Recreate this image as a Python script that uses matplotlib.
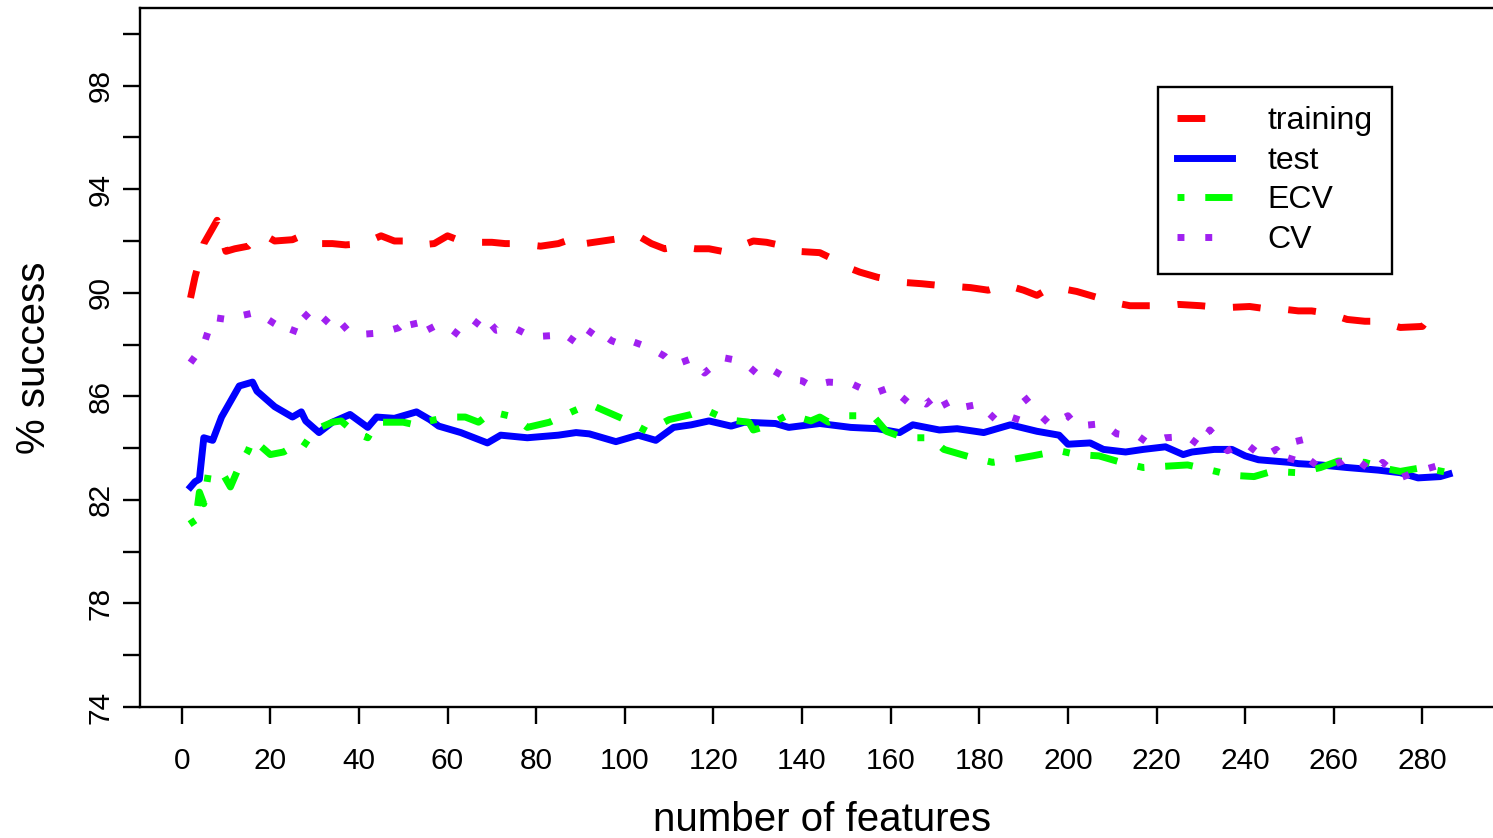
import matplotlib
matplotlib.use("Agg")
import matplotlib.pyplot as plt

plt.rcParams['font.family'] = ['Liberation Sans', 'DejaVu Sans']

# values (number of features -> % success)
train_x = [2, 3, 5, 8, 10, 12, 15, 18, 21, 25, 27, 30, 34, 37, 41, 45, 48, 52, 54, 57,
           60, 63, 66, 70, 73, 76, 81, 85, 90, 91, 95, 99, 103, 106, 109, 112, 116, 119,
           122, 126, 129, 132, 136, 139, 144, 147, 150, 153, 157, 160, 163, 167, 170, 174,
           178, 182, 186, 190, 193, 196, 199, 202, 207, 211, 214, 218, 222, 225, 230, 233,
           236, 241, 244, 247, 252, 255, 259, 263, 267, 270, 275, 280, 281, 286]
train_y = [89.8, 90.6, 91.9, 92.8, 91.6, 91.7, 91.8, 92.3, 92.0, 92.05, 92.2, 91.9, 91.9,
           91.85, 91.9, 92.2, 92.0, 92.0, 91.85, 91.9, 92.2, 92.0, 91.95, 91.95, 91.9, 91.9,
           91.8, 91.9, 92.2, 91.9, 92.0, 92.1, 92.2, 91.9, 91.7, 91.8, 91.7, 91.7, 91.6,
           91.8, 92.0, 91.95, 91.8, 91.6, 91.55, 91.3, 91.0, 90.8, 90.6, 90.5, 90.4, 90.35,
           90.3, 90.25, 90.2, 90.1, 90.3, 90.1, 89.9, 90.2, 90.15, 90.05, 89.8, 89.6, 89.5,
           89.5, 89.5, 89.55, 89.5, 89.45, 89.43, 89.47, 89.4, 89.4, 89.3, 89.3, 89.2,
           88.97, 88.9, 88.9, 88.66, 88.7, 88.93, 88.93]

test_x = [2, 3, 4, 5, 7, 9, 10, 13, 16, 17, 19, 21, 25, 27, 28, 31, 34, 38, 42, 44, 48,
          53, 56, 58, 63, 66, 69, 72, 78, 85, 89, 92, 98, 103, 107, 111, 115, 119, 124,
          127, 134, 137, 144, 151, 157, 162, 165, 171, 175, 181, 187, 193, 198, 200, 205,
          208, 213, 217, 222, 226, 228, 233, 237, 240, 243, 250, 252, 257, 263, 270, 275,
          279, 284, 286]
test_y = [82.5, 82.7, 82.8, 84.4, 84.3, 85.2, 85.5, 86.4, 86.55, 86.2, 85.9, 85.6, 85.2,
          85.4, 85.05, 84.6, 85.0, 85.3, 84.8, 85.2, 85.15, 85.4, 85.1, 84.85, 84.6, 84.4,
          84.2, 84.5, 84.4, 84.5, 84.6, 84.55, 84.25, 84.5, 84.3, 84.8, 84.9, 85.05, 84.85,
          85.0, 84.95, 84.8, 84.95, 84.8, 84.75, 84.6, 84.9, 84.7, 84.75, 84.6, 84.9, 84.65,
          84.5, 84.15, 84.2, 83.95, 83.85, 83.95, 84.05, 83.75, 83.85, 83.95, 83.95, 83.7,
          83.55, 83.45, 83.4, 83.35, 83.25, 83.15, 83.05, 82.85, 82.9, 83.0]

ecv_x = [2, 3, 4, 5, 6, 9, 11, 13, 15, 16, 18, 20, 23, 25, 27, 30, 34, 36, 39, 42, 44,
         50, 54, 56, 60, 64, 67, 70, 75, 78, 83, 88, 92, 96, 100, 105, 110, 115, 118, 123,
         128, 129, 132, 137, 142, 144, 146, 150, 156, 159, 163, 169, 172, 178, 183, 187,
         192, 198, 202, 207, 212, 217, 222, 227, 231, 237, 242, 246, 252, 257, 261, 267,
         272, 275, 280, 286]
ecv_y = [81.25, 81.0, 82.3, 81.85, 83.0, 83.1, 82.5, 83.3, 83.9, 84.35, 84.05, 83.75,
         83.85, 84.05, 83.95, 84.7, 85.0, 85.05, 84.6, 84.4, 85.0, 85.0, 84.85, 85.05, 85.2,
         85.2, 85.0, 85.4, 85.2, 84.8, 85.0, 85.4, 85.7, 85.4, 85.1, 84.65, 85.1, 85.3,
         85.5, 85.1, 85.0, 84.7, 84.85, 85.3, 85.05, 85.2, 85.0, 85.25, 85.25, 84.65, 84.4,
         84.4, 83.95, 83.65, 83.45, 83.55, 83.7, 83.9, 83.75, 83.7, 83.45, 83.25, 83.3,
         83.35, 83.2, 82.95, 82.9, 83.1, 83.05, 83.25, 83.5, 83.45, 83.2, 83.1, 83.25, 83.05]

cv_x = [2, 5, 7, 11, 13, 17, 21, 25, 27, 31, 34, 38, 41, 45, 49, 52, 53, 57, 60, 63, 65,
        68, 71, 75, 79, 84, 86, 90, 93, 97, 100, 102, 106, 109, 111, 115, 118, 122, 125,
        128, 130, 133, 137, 140, 142, 146, 151, 156, 160, 164, 166, 168, 171, 173, 177,
        180, 184, 188, 190, 193, 196, 200, 202, 205, 208, 211, 216, 218, 222, 227, 230,
        232, 236, 240, 244, 247, 250, 252, 253, 256, 259, 262, 263, 266, 269, 271, 275,
        278, 283, 285]
cv_y = [87.3, 88.0, 89.05, 88.95, 89.1, 89.25, 88.8, 88.4, 89.3, 88.65, 89.2, 88.45, 88.4,
        88.45, 88.65, 89.1, 88.35, 88.7, 88.7, 88.3, 88.5, 89.15, 88.55, 88.65, 88.3, 88.35,
        88.45, 87.95, 88.65, 88.15, 87.95, 88.1, 87.85, 87.55, 87.2, 87.45, 86.9, 87.5,
        87.4, 87.15, 86.85, 87.05, 86.65, 86.6, 86.4, 86.55, 86.5, 86.1, 86.35, 85.75,
        85.9, 85.7, 86.15, 85.5, 85.6, 85.7, 85.05, 85.0, 86.0, 85.4, 84.9, 85.25, 84.85,
        84.9, 84.95, 84.55, 84.45, 84.2, 84.4, 84.45, 84.05, 84.7, 83.9, 84.2, 83.65, 83.95,
        83.35, 84.45, 83.75, 83.35, 83.3, 83.5, 83.65, 83.45, 83.05, 83.45, 82.85, 83.05,
        83.3, 82.9]

x_ticks = list(range(0, 281, 20))
y_ticks = list(range(74, 101, 2))
y_labels = [str(v) if (v - 74) % 4 == 0 else '' for v in y_ticks]

fig = plt.figure(figsize=(14.93, 8.38), dpi=100)
# axes box runs a little past the right edge of the picture, like the reference
ax = fig.add_axes([140 / 1493, 131 / 838, 1364 / 1493, 699 / 838])

lw = 5
ax.plot(train_x, train_y, color='#FF0000', lw=lw, linestyle=(0, (4, 4)),
        dash_capstyle='butt', label='training')
ax.plot(test_x, test_y, color='#0000FF', lw=lw, linestyle='-', label='test')
ax.plot(ecv_x, ecv_y, color='#00FF00', lw=lw, linestyle=(0, (1, 3, 4, 3)),
        dash_capstyle='butt', label='ECV')
ax.plot(cv_x, cv_y, color='#A020F0', lw=lw, linestyle=(0, (1, 3)),
        dash_capstyle='butt', label='CV')

ax.set_xlim(-9.4, 298.4)
ax.set_ylim(74, 101)
ax.set_xticks(x_ticks)
ax.set_yticks(y_ticks)
ax.set_yticklabels(y_labels)

for s in ax.spines.values():
    s.set_linewidth(1.7)
ax.tick_params(axis='both', direction='out', length=12, width=1.7)
ax.tick_params(axis='x', labelsize=21.5, pad=17)
ax.tick_params(axis='y', labelsize=21.5, pad=6)
plt.setp(ax.get_yticklabels(), rotation=90, va='center')

ax.set_xlabel('number of features', fontsize=29)
ax.set_ylabel('% success', fontsize=29)
ax.xaxis.set_label_coords(0.5, -0.134)
ax.yaxis.set_label_coords(-0.064, 0.5)

leg = ax.legend(loc='upper left', bbox_to_anchor=(1158 / 1493, 1 - 87 / 838),
                bbox_transform=fig.transFigure, borderaxespad=0, fontsize=23,
                handlelength=1.72, handletextpad=1.1, labelspacing=0.3,
                borderpad=0.6, fancybox=False, framealpha=1)
leg.get_frame().set_edgecolor('black')
leg.get_frame().set_linewidth(1.7)

fig.savefig('out.png', dpi=100)
